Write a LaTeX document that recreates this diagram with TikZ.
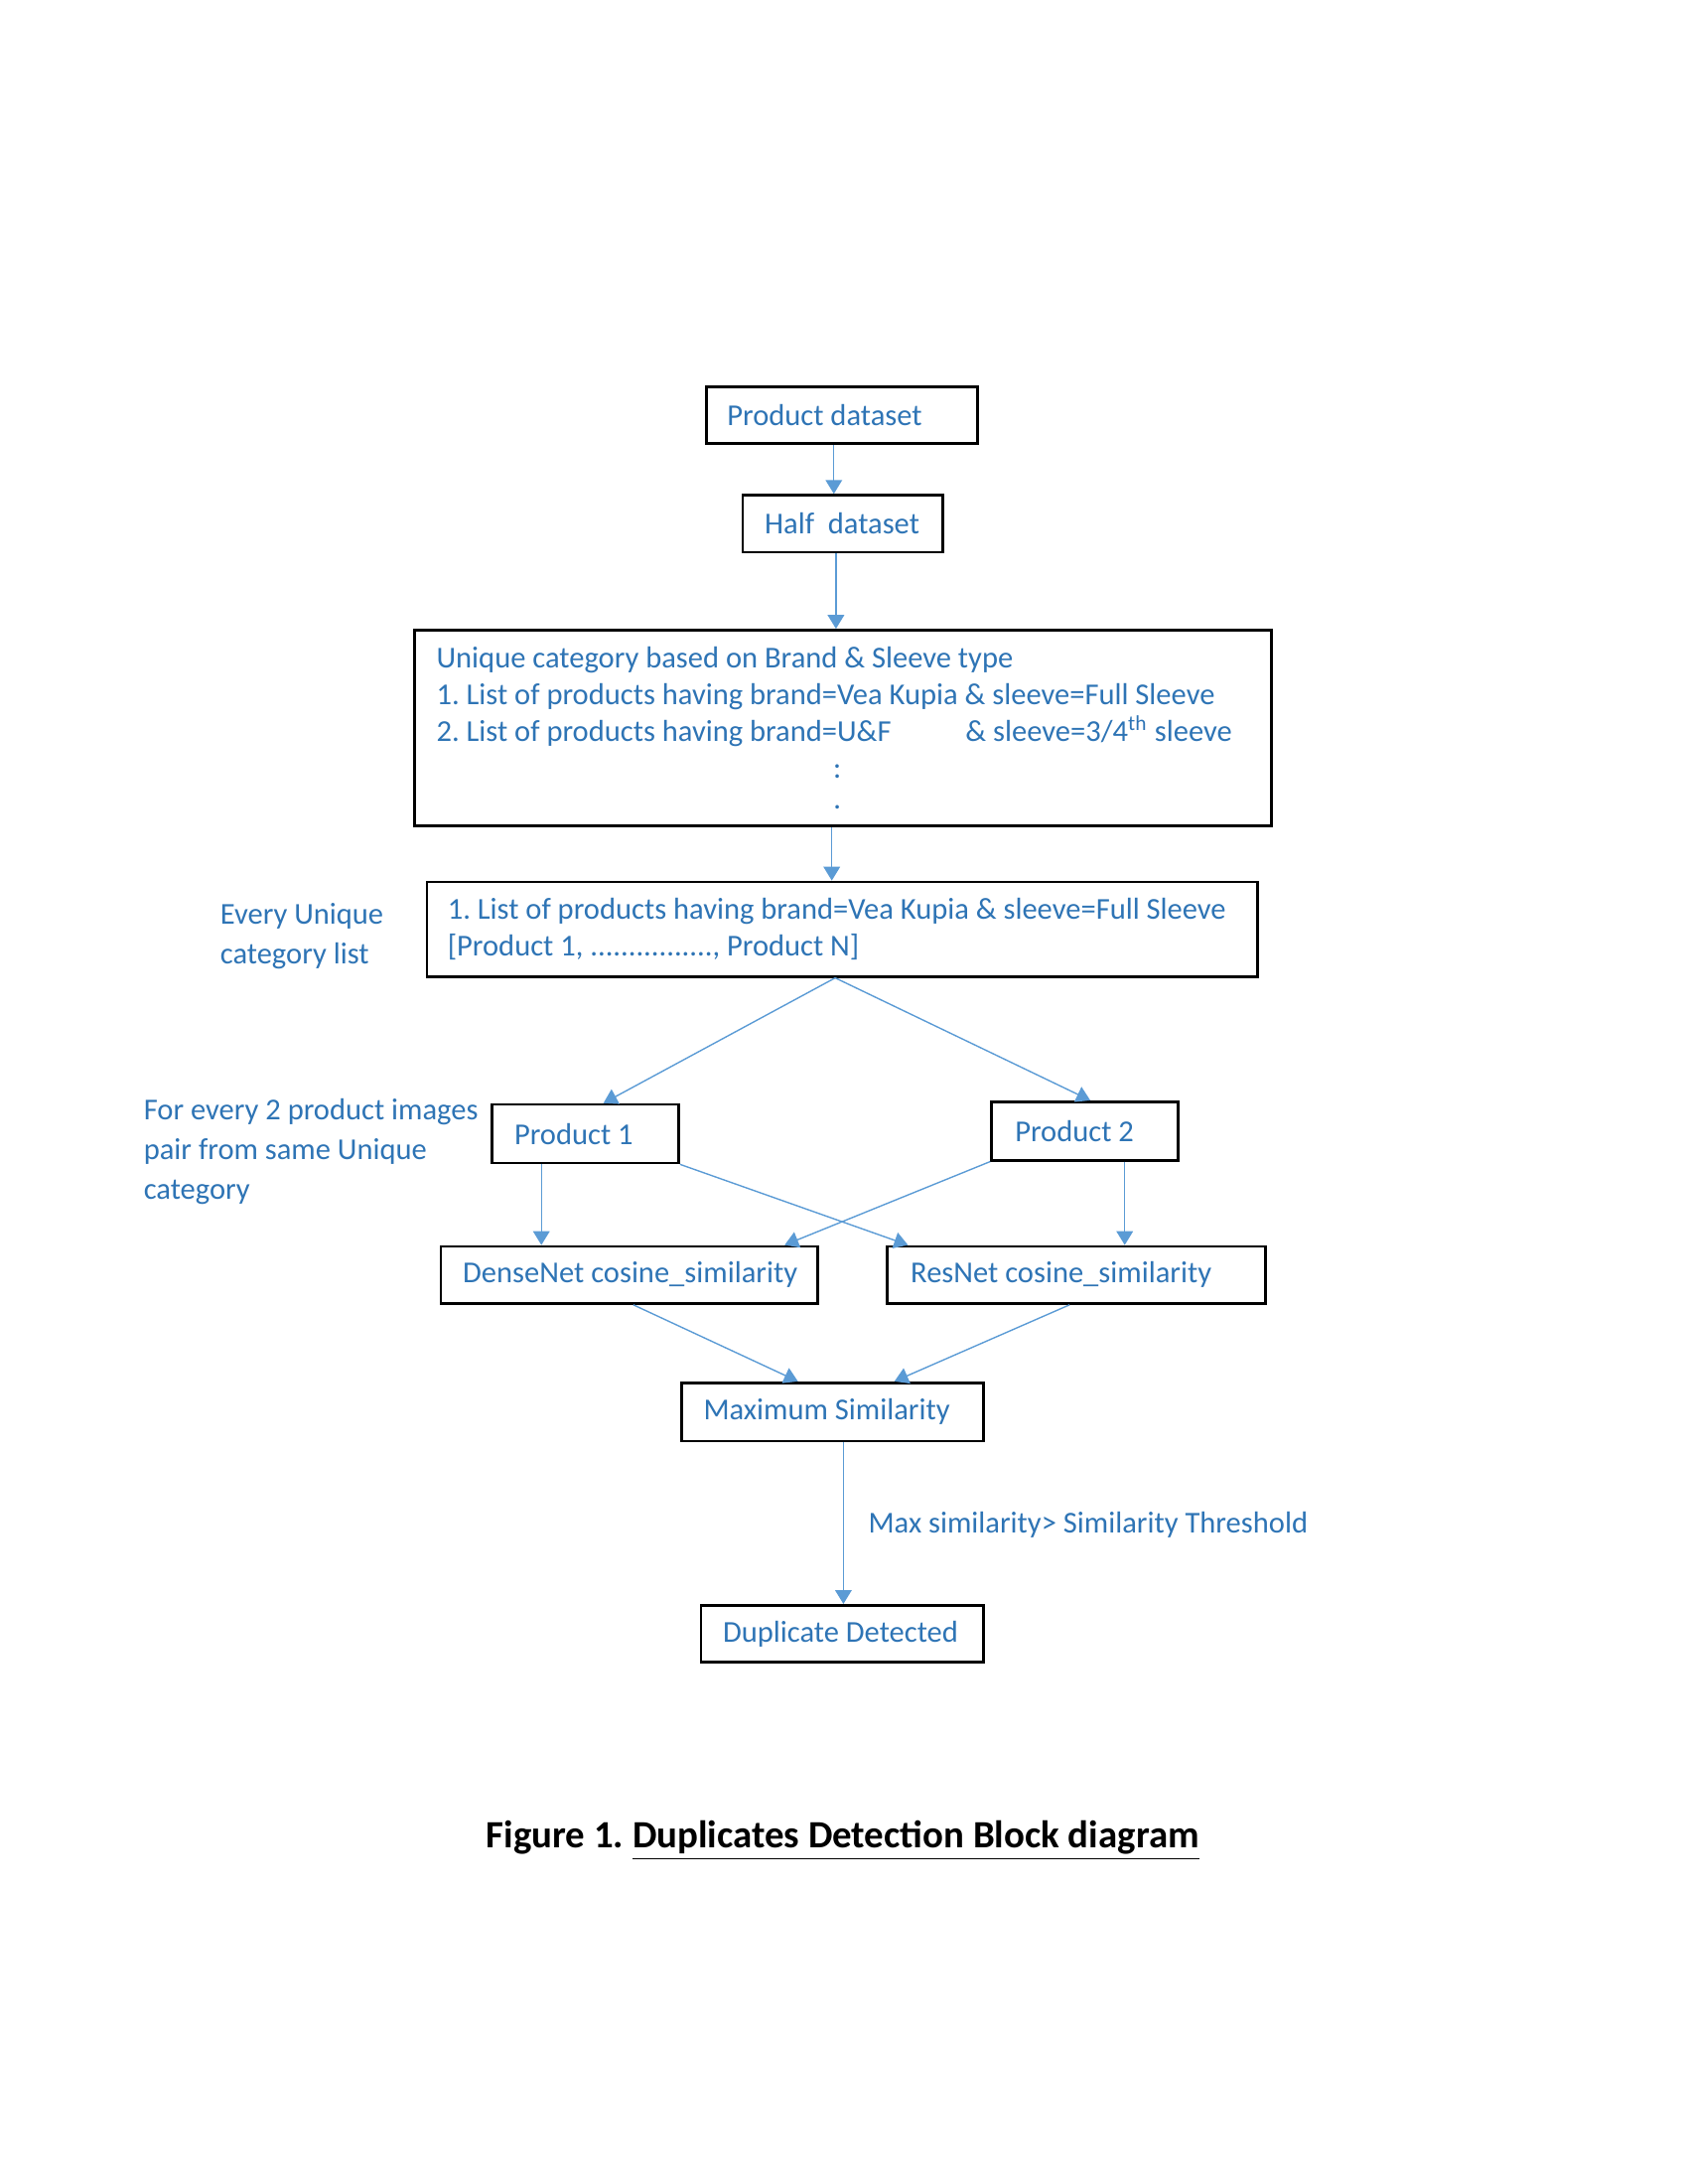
\documentclass[tikz,border=0pt]{standalone}
\usepackage{fontspec}
\setmainfont{Carlito}
\usepackage{tikz}
\usetikzlibrary{arrows.meta}
\definecolor{txtblue}{HTML}{2E74B5}
\definecolor{arrblue}{HTML}{5B9BD5}
\frenchspacing
\tikzset{every picture/.append style={x=0.5045pt, y=-0.5045pt}}
\tikzset{
    box/.style={draw, line width=1pt, text=txtblue, align=left, anchor=north west,
    	inner ysep=0pt, font=\fontsize{11pt}{13.25pt}\selectfont,
    	execute at begin node={\spaceskip=0pt\xspaceskip=0pt\relax}},
    note/.style={text=txtblue, align=left, anchor=west, inner sep=0pt,
    	font=\fontsize{11pt}{14.5pt}\selectfont},
    flow/.style={draw=arrblue, line width=0.5pt, -{Triangle[length=5pt, width=6pt]}}
}

\begin{document}
\begin{tikzpicture}
  \useasboundingbox (0,0) rectangle (1213,1570);
  \node (pd) [box, inner xsep=7.5pt, text width=83.4pt, minimum height=20.7pt] at (507,277) {\mbox{Product dataset}};
  \node (hd) [box, inner xsep=8pt, text width=56.7pt, minimum height=20.7pt] at (533,355) {\mbox{Half~~dataset}};
  \node (uq) [box, inner xsep=8pt, text width=294.8pt, minimum height=71.1pt] at (297,452)
  	{\mbox{Unique category based on Brand \& Sleeve type}\\
  	 \mbox{1. List of products having brand=Vea Kupia \& sleeve=Full Sleeve}\\
  	 \mbox{\makebox[192pt][l]{2. List of products having brand=U\&F}\& sleeve=3/4\textsuperscript{th} sleeve}\\
  	 \makebox[\linewidth][c]{\hspace{-4pt}:}\\[-2pt]
  	 \makebox[\linewidth][c]{\hspace{-4pt}.}\\[-3pt]};
  \node (lst) [box, inner xsep=7.5pt, text width=286.2pt, minimum height=34.3pt] at (306,633)
  	{\mbox{1. List of products having brand=Vea Kupia \& sleeve=Full Sleeve}\\
  	 \mbox{[Product 1, ................, Product N]}};
  \node (p1) [box, inner xsep=8pt, text width=51.6pt, minimum height=21.2pt] at (353,793) {\mbox{Product 1}};
  \node (p2) [box, inner xsep=8.5pt, text width=50.6pt, minimum height=21.2pt] at (712,791) {\mbox{Product 2}};
  \node (dn) [box, inner xsep=8pt, text width=120.7pt, minimum height=20.7pt] at (316,895) {\mbox{DenseNet cosine\_similarity}};
  \node (rs) [box, inner xsep=8.5pt, text width=120.2pt, minimum height=20.7pt] at (637,895) {\mbox{ResNet cosine\_similarity}};
  \node (mx) [box, inner xsep=8pt, text width=93.5pt, minimum height=21.2pt] at (489,993) {\mbox{Maximum Similarity}};
  \node (dup) [box, inner xsep=8pt, text width=86.4pt, minimum height=20.7pt] at (503,1153) {\mbox{Duplicate Detected}};

  % side notes
  \node (every) [note] at (158,673) {Every Unique\\category list};
  \node (pair) [note] at (103,828) {For every 2 product images\\pair from same Unique\\category};
  \node (thr) [note, font=\fontsize{11pt}{13.25pt}\selectfont] at (624,1096) {Max similarity> Similarity Threshold};

  \node (cap) [inner sep=0pt, font=\fontsize{14pt}{16pt}\selectfont\bfseries] at (606,1323)
  	{Figure 1. \underline{Duplicates Detection Block diagram}};

  \draw[flow] ([xshift=-3pt]pd.south) -- ([xshift=-3pt]pd.south |- hd.north);
  \draw[flow] ([xshift=-2.5pt]hd.south) -- ([xshift=-2.5pt]hd.south |- uq.north);
  \draw[flow] ([xshift=-4pt]uq.south) -- ([xshift=-4pt]uq.south |- lst.north);
  \draw[flow] ([xshift=-2.5pt]lst.south) -- ([xshift=6.5pt]p1.north);
  \draw[flow] ([xshift=-2.5pt]lst.south) -- ([xshift=2pt]p2.north);
  \draw[flow] ([xshift=-16pt]p1.south) -- ([xshift=-16pt]p1.south |- dn.north);
  \draw[flow] (p1.south east) -- ([xshift=8pt]rs.north west);
  \draw[flow] (p2.south west) -- ([xshift=-12.5pt]dn.north east);
  \draw[flow] ([xshift=14.5pt]p2.south) -- ([xshift=14.5pt]p2.south |- rs.north);
  \draw[flow] ([xshift=1.5pt]dn.south) -- ([xshift=-12.5pt]mx.north);
  \draw[flow] ([xshift=-2.5pt]rs.south) -- ([xshift=22.5pt]mx.north);
  \draw[flow] ([xshift=4pt]mx.south) -- ([xshift=4pt]mx.south |- dup.north);
\end{tikzpicture}
\end{document}
